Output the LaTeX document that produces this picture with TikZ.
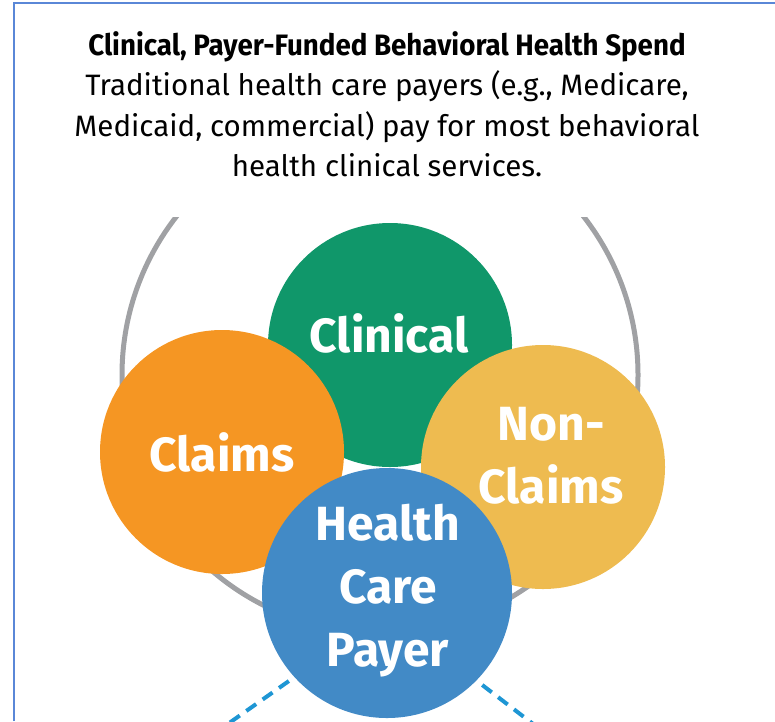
\documentclass[tikz,border=0pt]{standalone}
\usepackage{fontspec}
\setmainfont{Fira Sans}
\newfontfamily\headfont{Fira Sans}
\newfontfamily\headboldfont[FakeStretch=0.94]{Fira Sans}
\usetikzlibrary{positioning}

\definecolor{clinicalgreen}{RGB}{16,151,106}
\definecolor{claimsorange}{RGB}{245,150,35}
\definecolor{nonclaimsyellow}{RGB}{238,187,80}
\definecolor{payerblue}{RGB}{66,138,198}
\definecolor{ringgray}{RGB}{160,161,164}
\definecolor{dashblue}{RGB}{30,150,212}
\definecolor{frameblue}{RGB}{90,135,215}

\begin{document}
\begin{tikzpicture}[x=1pt,y=-1pt]
	\tikzset{bubble/.style={circle, inner sep=0pt, minimum size=244pt, align=center,
	    text=white, font=\fontsize{48}{63}\selectfont\bfseries},
	  ring/.style={draw=ringgray, line width=5pt},
	  spoke/.style={draw=dashblue, line width=4pt, dash pattern=on 12pt off 8pt},
	  frame/.style={draw=frameblue, line width=2pt}
	}
	\useasboundingbox (0,0) rectangle (775,721);

	% page frame, top and left edges only
	\draw[frame] (14,721) -- (14,3) -- (775,3);

	% header text
	\node[align=center, font=\headfont\fontsize{29.5}{40.5}\selectfont] (header) at (387,104)
	  {{\headboldfont\bfseries Clinical, Payer-Funded Behavioral Health Spend}\\
	   Traditional health care payers (e.g., Medicare,\\
	   Medicaid, commercial) pay for most behavioral\\
	   health clinical services.};

	% grey ring behind the bubbles, cut off at the top
	\begin{scope}
	  \clip (0,217) rectangle (775,721);
	  \coordinate (hub) at (380,375);
	  \draw[ring] (hub) circle (258);
	\end{scope}

	\node[bubble, fill=clinicalgreen] (clinical) at (390,345) {};
	\node[bubble, fill=claimsorange] (claims) at (222,452) {};
	\node[bubble, fill=nonclaimsyellow] (nonclaims) at (543,467) {};

	% dashed spokes leaving the payer bubble
	\coordinate (spokehub) at (387,612);
	\coordinate (spokeleft) at (205,740);
	\coordinate (spokeright) at (554,740);
	\begin{scope}
	  \clip (0,0) rectangle (775,721);
	  \draw[spoke] (spokehub) -- (spokeleft);
	  \draw[spoke] (spokehub) -- (spokeright);
	\end{scope}

	\node[bubble, fill=payerblue, minimum size=250pt] (payer) at (387,593) {};

	% bubble labels
	\node[bubble, minimum size=0pt] (clinicaltext) at (389,333) {Clinical};
	\node[bubble, minimum size=0pt] (claimstext) at (222,452) {Claims};
	\node[bubble, minimum size=0pt] (nonclaimstext) at (551,456) {Non-\\Claims};
	\node[bubble, minimum size=0pt] (payertext) at (388,591) {Health\\Care\\Payer};
\end{tikzpicture}
\end{document}
